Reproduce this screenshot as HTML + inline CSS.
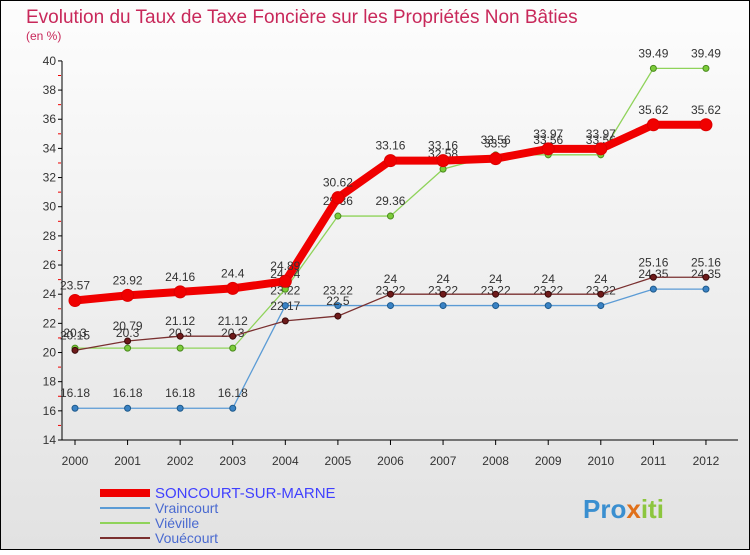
<!DOCTYPE html>
<html><head><meta charset="utf-8"><style>
body{margin:0;width:750px;height:550px;overflow:hidden;font-family:"Liberation Sans",sans-serif}
svg text{font-family:"Liberation Sans",sans-serif}
</style></head><body>
<svg id="c" width="750" height="550" xmlns="http://www.w3.org/2000/svg">
<defs><linearGradient id="bg" x1="0" y1="0" x2="0" y2="1"><stop offset="0" stop-color="#fdfdfd"/><stop offset="1" stop-color="#e2e2e2"/></linearGradient></defs>
<rect x="0.5" y="0.5" width="749" height="549" fill="url(#bg)" stroke="#000"/>
<text x="26" y="23" font-size="19" fill="#c8285a">Evolution du Taux de Taxe Foncière sur les Propriétés Non Bâties</text>
<text x="26" y="40" font-size="12" fill="#c8285a">(en %)</text>
<g id="axes"></g><g id="series"></g><g id="legend"></g>
<text x="583" y="518" font-size="26" font-weight="bold" fill="#3a8fd0">Pro<tspan fill="#e0701a">x</tspan><tspan fill="#8cc63e">iti</tspan></text>
</svg>
<script>
const years=[2000,2001,2002,2003,2004,2005,2006,2007,2008,2009,2010,2011,2012];
const yTicks=[14,16,18,20,22,24,26,28,30,32,34,36,38,40];
const soncourt=[23.57,23.92,24.16,24.4,24.89,30.62,33.16,33.16,33.3,33.97,33.97,35.62,35.62];
const vraincourt=[16.18,16.18,16.18,16.18,23.22,23.22,23.22,23.22,23.22,23.22,23.22,24.35,24.35];
const vieville=[20.3,20.3,20.3,20.3,24.34,29.36,29.36,32.58,33.56,33.56,33.56,39.49,39.49];
const vouecourt=[20.15,20.79,21.12,21.12,22.17,22.5,24,24,24,24,24,25.16,25.16];
const NS="http://www.w3.org/2000/svg";
const X=i=>75+i*52.58, Y=v=>440-(v-14)*14.58;
function mk(t,a,p){const e=document.createElementNS(NS,t);for(const k in a)e.setAttribute(k,a[k]);p.appendChild(e);return e;}
const ax=document.getElementById('axes');
let l=mk('line',{x1:62,y1:61,x2:62,y2:440,stroke:'#000'},ax);


l=mk('line',{x1:62,y1:440,x2:738,y2:440,stroke:'#000'},ax);


yTicks.forEach(v=>{mk('line',{x1:58,y1:Y(v),x2:62,y2:Y(v),stroke:'#000'},ax);
 if(v<40)mk('line',{x1:58,y1:Y(v+1),x2:61,y2:Y(v+1),stroke:'#e00'},ax);
 const t=mk('text',{x:56,y:Y(v)+4,'font-size':12,'text-anchor':'end',fill:'#333'},ax);t.textContent=v;
 
 });
years.forEach((y,i)=>{mk('line',{x1:X(i),y1:440,x2:X(i),y2:445,stroke:'#000'},ax);
 const t=mk('text',{x:X(i),y:465,'font-size':12,'text-anchor':'middle',fill:'#333'},ax);t.textContent=y;
 
 });
const sg=document.getElementById('series');
function draw(name,vals,col,w,r,dot,stroke){
 const g=mk('g',{},sg);
 
 
 mk('polyline',{points:vals.map((v,i)=>X(i)+','+Y(v)).join(' '),fill:'none',stroke:col,'stroke-width':w},g);
 vals.forEach((v,i)=>{const c=mk('circle',{cx:X(i),cy:Y(v),r:r,fill:dot,stroke:stroke},g);
  
  
  const t=mk('text',{x:X(i),y:Y(v)-11,'font-size':12,'text-anchor':'middle',fill:'#333'},g);t.textContent=v;
  
  });
}
draw('vraincourt',vraincourt,'#5b9bd5',1.3,3,'#3a82c4','#1e5a8c');
draw('vieville',vieville,'#8fd35a',1.3,3,'#7ccc3a','#4a8a1e');
draw('vouecourt',vouecourt,'#7a3030',1.3,3,'#6e1a1a','#3a0a0a');
draw('soncourt',soncourt,'#f00000',8,6,'#f00000','#d00');
const lg=document.getElementById('legend');
[['SONCOURT-SUR-MARNE','#f00000',8,'#4040ff',15],['Vraincourt','#5b9bd5',2,'#4a6ad0',14],['Viéville','#8fd35a',2,'#4a6ad0',14],['Vouécourt','#7a3030',2,'#4a6ad0',14]].forEach((d,i)=>{
 const y=493+i*15;
 const g=mk('g',{},lg);
 
 
 mk('line',{x1:100,y1:y,x2:150,y2:y,stroke:d[1],'stroke-width':d[2]},g);
 const t=mk('text',{x:155,y:y+5,'font-size':d[4],fill:d[3]},g);t.textContent=d[0];
});
</script>
</body></html>
